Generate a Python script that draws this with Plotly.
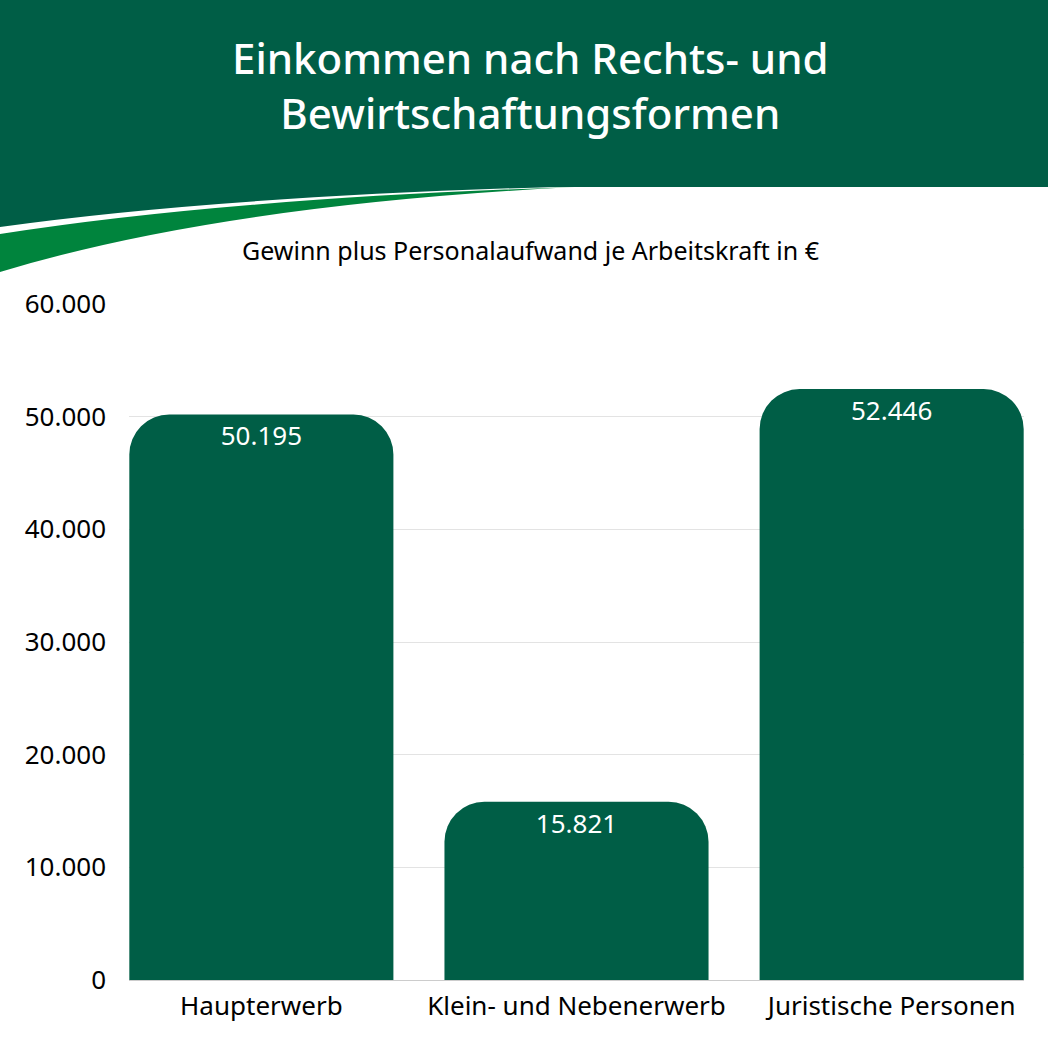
import plotly.graph_objects as go

# data
kategorien = ["Haupterwerb", "Klein- und Nebenerwerb", "Juristische Personen"]
einkommen = [50195, 15821, 52446]
y_ticks = [0, 10000, 20000, 30000, 40000, 50000, 60000]

titel = "Einkommen nach Rechts- und<br>Bewirtschaftungsformen"
untertitel = "Gewinn plus Personalaufwand je Arbeitskraft in €"

dunkelgruen = "#005E46"
hellgruen = "#00843D"
W, H = 1048, 1048
ml, mr, mt, mb = 129, 24, 304, 68
schrift = "Noto Sans"


def px(x, y):
    # pixel -> paper coords
    return (x - ml) / (W - ml - mr), (H - mb - y) / (H - mt - mb)


def path(pts):
    s = ""
    for cmd, coords in pts:
        s += cmd
        s += " ".join("%.5f,%.5f" % px(x, y) for x, y in coords) + " "
    return s + "Z"


fig = go.Figure()
# rounded bars
fig.add_trace(go.Bar(
    x=kategorien, y=einkommen,
    marker=dict(color=dunkelgruen, line=dict(width=0), cornerradius=40),
    hoverinfo="skip",
))
# invisible square bars just to carry the labels near the top
fig.add_trace(go.Bar(
    x=kategorien, y=einkommen,
    marker=dict(color="rgba(0,0,0,0)", line=dict(width=0), cornerradius=0),
    texttemplate="%{y:,.0f}", textposition="inside", insidetextanchor="end",
    textfont=dict(color="white", size=26, family=schrift),
    hoverinfo="skip",
))

shapes = [
    dict(type="rect", xref="paper", yref="paper",
         x0=px(0, 0)[0], x1=px(W, 0)[0], y0=px(0, 0)[1], y1=px(0, 187)[1],
         fillcolor=dunkelgruen, line=dict(width=0), layer="above"),
    dict(type="path", xref="paper", yref="paper",
         path=path([("M", [(0, 186)]), ("L", [(590, 186)]),
                    ("Q", [(230, 195), (0, 227)])]),
         fillcolor=dunkelgruen, line=dict(width=0), layer="above"),
    dict(type="path", xref="paper", yref="paper",
         path=path([("M", [(0, 234)]), ("Q", [(230, 198), (575, 187)]),
                    ("Q", [(220, 205), (0, 272)])]),
         fillcolor=hellgruen, line=dict(width=0), layer="above"),
]

fig.update_layout(
    width=W, height=H,
    margin=dict(l=ml, r=mr, t=mt, b=mb),
    paper_bgcolor="white", plot_bgcolor="white",
    separators=",.",
    barmode="overlay",
    bargap=0.162,
    showlegend=False,
    font=dict(family=schrift, color="black", size=26),
    shapes=shapes,
    annotations=[
        dict(text=titel, xref="paper", yref="paper", x=px(530, 0)[0], y=px(0, 85)[1],
             xanchor="center", yanchor="middle", showarrow=False,
             font=dict(size=42, color="white", family=schrift, weight=500), align="center"),
        dict(text=untertitel, xref="paper", yref="paper", x=px(530, 0)[0], y=px(0, 250)[1],
             xanchor="center", yanchor="middle", showarrow=False,
             font=dict(size=25, color="black", family=schrift)),
    ],
)
fig.update_yaxes(range=[0, 60000], tickvals=y_ticks, tickformat=",.0f",
                 showgrid=True, gridcolor="#e3e3e3", gridwidth=1,
                 zeroline=True, zerolinecolor="#cccccc", zerolinewidth=1,
                 showline=False, ticks="", ticklabelstandoff=22,
                 tickfont=dict(size=26))
fig.update_xaxes(range=[-0.42, 2.42], showline=False, ticks="",
                 ticklabelstandoff=8, tickfont=dict(size=26))

fig.write_html("out.html", config={"displayModeBar": False},
               post_script="document.body.style.margin='0';")
